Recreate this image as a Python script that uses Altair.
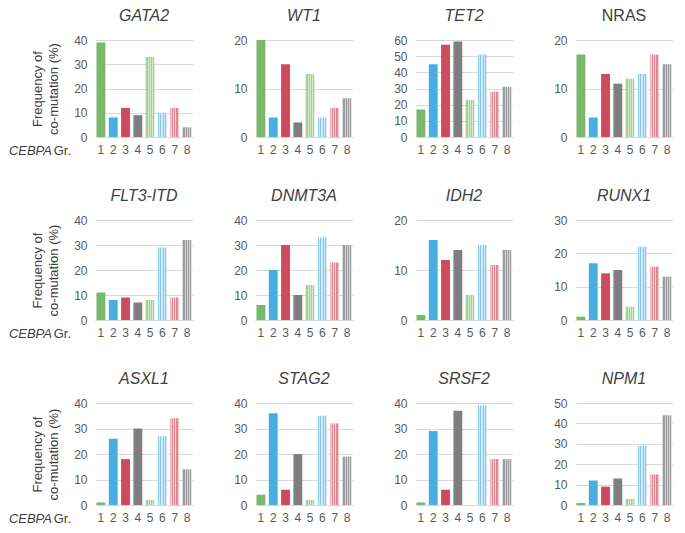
import altair as alt
import pandas as pd

groups = ["1", "2", "3", "4", "5", "6", "7", "8"]

genes = ["GATA2", "WT1", "TET2", "NRAS",
         "FLT3-ITD", "DNMT3A", "IDH2", "RUNX1",
         "ASXL1", "STAG2", "SRSF2", "NPM1"]
italic = [True, True, True, False,
          True, True, True, True,
          True, True, True, True]

GATA2 = [39, 8, 12, 9, 33, 10, 12, 4]
WT1 = [20, 4, 15, 3, 13, 4, 6, 8]
TET2 = [17, 45, 57, 59, 23, 51, 28, 31]
NRAS = [17, 4, 13, 11, 12, 13, 17, 15]
FLT3_ITD = [11, 8, 9, 7, 8, 29, 9, 32]
DNMT3A = [6, 20, 30, 10, 14, 33, 23, 30]
IDH2 = [1, 16, 12, 14, 5, 15, 11, 14]
RUNX1 = [1, 17, 14, 15, 4, 22, 16, 13]
ASXL1 = [1, 26, 18, 30, 2, 27, 34, 14]
STAG2 = [4, 36, 6, 20, 2, 35, 32, 19]
SRSF2 = [1, 29, 6, 37, 0, 39, 18, 18]
NPM1 = [1, 12, 9, 13, 3, 29, 15, 44]

series = [GATA2, WT1, TET2, NRAS, FLT3_ITD, DNMT3A, IDH2, RUNX1,
          ASXL1, STAG2, SRSF2, NPM1]
y_max = [40, 20, 60, 20, 40, 40, 20, 30, 40, 40, 40, 50]

solid_colors = ["#78b86a", "#4aade0", "#cc4b5e", "#7f7f7f"]
# hatched groups 5-8: (darker, lighter) pairs of the fine texture
hatch_colors = [("#a3d094", "#d2ebcb"), ("#86c9ee", "#cfeafa"),
                ("#df8793", "#f4cdd3"), ("#9c9c9c", "#d0d0d0")]

row_heights = [97, 100, 102]
panel_width = 98

FONT = "Liberation Sans"
TXT = "#404040"
LAB = "#595959"


def hatch_gradient(dark, light, n=5):
    stops = []
    for k in range(n):
        a = k / n
        m = (k + 0.5) / n
        b = (k + 1) / n
        stops += [alt.GradientStop(color=dark, offset=a),
                  alt.GradientStop(color=dark, offset=m),
                  alt.GradientStop(color=light, offset=m),
                  alt.GradientStop(color=light, offset=b)]
    return alt.LinearGradient(gradient="linear", stops=stops,
                              x1=0, x2=1, y1=0, y2=0)


def panel(i):
    h = row_heights[i // 4]
    first = (i % 4 == 0)
    df = pd.DataFrame({"grp": groups, "val": series[i],
                       "idx": list(range(8))})
    yaxis_kwargs = dict(values=list(range(0, y_max[i] + 1, 10)), grid=True,
                        gridColor="#d9d9d9", domain=False, ticks=False,
                        labelPadding=8, labelFontSize=12, labelColor=LAB,
                        labelFont=FONT)
    if first:
        yaxis_kwargs.update(title=["Frequency of", "co-mutation (%)"],
                            titleFontSize=13, titleFontWeight="normal",
                            titleColor=TXT, titleFont=FONT, titlePadding=13,
                            titleLineHeight=16)
    else:
        yaxis_kwargs.update(title=None)
    x_enc = alt.X("grp:N", title=None,
                  scale=alt.Scale(domain=groups, paddingInner=0.28, paddingOuter=0.12),
                  axis=alt.Axis(labelAngle=0, ticks=False, domainColor="#d9d9d9",
                                labelPadding=7, labelFontSize=12, labelColor=LAB,
                                labelFont=FONT, grid=False))
    y_enc = alt.Y("val:Q", scale=alt.Scale(domain=[0, y_max[i]], nice=False),
                  axis=alt.Axis(**yaxis_kwargs))
    base = alt.Chart(df)
    layers = []
    for k in range(4):
        layers.append(base.transform_filter(alt.datum.idx == k)
                      .mark_bar(color=solid_colors[k])
                      .encode(x=x_enc, y=y_enc))
    for k in range(4):
        dark, light = hatch_colors[k]
        layers.append(base.transform_filter(alt.datum.idx == k + 4)
                      .mark_bar(color=hatch_gradient(dark, light))
                      .encode(x=x_enc, y=y_enc))
    if first:
        lab1 = alt.Chart(pd.DataFrame({"t": ["CEBPA"]})).mark_text(
            align="right", baseline="middle", fontStyle="italic", fontSize=13,
            font=FONT, color=TXT
        ).encode(x=alt.value(-43), y=alt.value(h + 14), text="t:N")
        lab2 = alt.Chart(pd.DataFrame({"t": ["Gr."]})).mark_text(
            align="right", baseline="middle", fontSize=13,
            font=FONT, color=TXT
        ).encode(x=alt.value(-24), y=alt.value(h + 14), text="t:N")
        layers += [lab1, lab2]
    return alt.layer(*layers).properties(
        width=panel_width, height=h,
        title=alt.TitleParams(genes[i], fontStyle="italic" if italic[i] else "normal",
                              fontSize=16, fontWeight="normal", color=TXT,
                              font=FONT, offset=10),
    )


panels = [panel(i) for i in range(12)]

chart = alt.concat(*panels, columns=4, spacing={"row": 83, "column": 62},
                   bounds="flush", align="each").properties(
    padding=0
).configure_view(stroke=None)

chart.save("out.html", embed_options={"renderer": "svg", "actions": False})
